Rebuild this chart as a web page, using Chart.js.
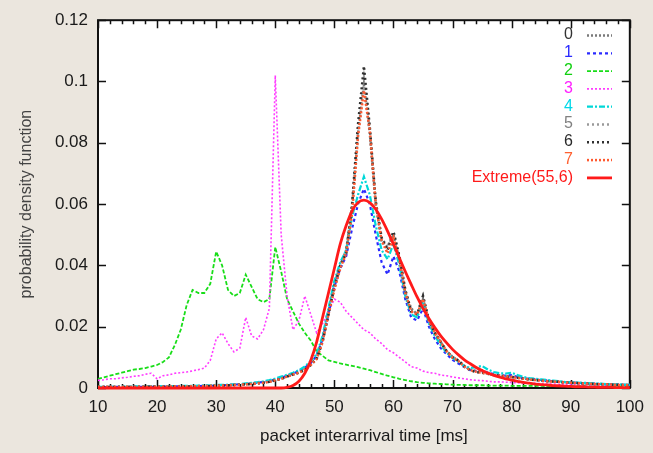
<!DOCTYPE html>
<html>
<head>
<meta charset="utf-8">
<script src="https://cdn.jsdelivr.net/npm/chart.js@4/dist/chart.umd.min.js"></script>
<style>
  html, body { margin: 0; padding: 0; background: #ebe6de; }
  #c { display: block; }
</style>
</head>
<body>
<canvas id="c" width="653" height="453"></canvas>
<script>
// ---- Data ----
const xValues = [10,11,12,13,14,15,16,17,18,19,20,21,22,23,24,25,26,27,28,29,30,31,32,33,34,35,36,37,38,39,40,41,42,43,44,45,46,47,48,49,50,51,52,53,54,55,56,57,58,59,60,61,62,63,64,65,66,67,68,69,70,71,72,73,74,75,76,77,78,79,80,81,82,83,84,85,86,87,88,89,90,91,92,93,94,95,96,97,98,99,100];

const xTicks = [10,20,30,40,50,60,70,80,90,100];
const yTicks = [0,0.02,0.04,0.06,0.08,0.1,0.12];
const seriesLabels = ["0","1","2","3","4","5","6","7","Extreme(55,6)"];

const s0 = [.0004,.0003,.0004,.0003,.0004,.0004,.0003,.0004,.0004,.0005,
 .0004,.0005,.0005,.0005,.0006,.0005,.0006,.0006,.0007,.0007,
 .0008,.0008,.0009,.001,.0011,.0012,.0014,.0016,.0018,.0021,
 .0026,.0031,.0038,.0044,.0051,.0062,.0078,.0098,.016,.025,
 .034,.040,.045,.059,.083,.099,.083,.060,.048,.046,
 .050,.042,.031,.026,.024,.029,.022,.018,.015,.012,
 .0102,.0088,.0072,.006,.0055,.0052,.0047,.0043,.004,.0038,
 .0037,.0034,.0031,.0029,.0027,.0025,.0023,.0021,.002,.0019,
 .0018,.0016,.0015,.0014,.0013,.0013,.0012,.0011,.0011,.001,.001];

const s1 = [.0003,.0003,.0003,.0004,.0003,.0003,.0004,.0004,.0004,.0004,
 .0004,.0005,.0004,.0005,.0005,.0006,.0006,.0006,.0007,.0007,
 .0008,.0009,.001,.0011,.0012,.0013,.0015,.0017,.002,.0023,
 .0028,.0034,.004,.0047,.0055,.0066,.0082,.0105,.016,.024,
 .033,.039,.043,.052,.060,.065,.060,.050,.041,.037,
 .043,.038,.029,.023,.022,.026,.020,.016,.013,.011,
 .0092,.008,.0068,.0058,.0055,.0058,.005,.0045,.0042,.004,
 .0042,.0036,.0032,.003,.0028,.0026,.0024,.0022,.002,.0019,
 .0018,.0017,.0016,.0015,.0014,.0013,.0012,.0012,.0011,.001,.001];

const s2 = [.003,.0035,.004,.0045,.005,.0055,.006,.0062,.0065,.007,
 .0075,.0085,.010,.014,.019,.027,.032,.031,.031,.034,
 .0445,.040,.032,.030,.031,.037,.033,.029,.028,.029,
 .046,.038,.029,.025,.021,.018,.0155,.012,.0105,.009,
 .0085,.008,.0076,.0072,.0068,.0063,.0058,.0052,.0046,.004,
 .0035,.003,.0026,.0022,.0019,.0017,.0015,.0014,.0013,.0012,
 .0011,.001,.001,.0009,.0009,.0009,.0008,.0008,.0008,.0008,
 .0007,.0007,.0007,.0007,.0007,.0007,.0006,.0006,.0006,.0006,
 .0006,.0006,.0006,.0006,.0005,.0005,.0005,.0005,.0005,.0005,.0005];

const s3 = [.0025,.0027,.003,.003,.0033,.0035,.0038,.004,.0045,.0048,
 .003,.004,.0043,.0048,.005,.0052,.0056,.006,.0065,.009,
 .016,.018,.0145,.0118,.013,.023,.017,.016,.019,.026,
 .102,.05,.03,.019,.022,.030,.024,.018,.021,.025,
 .029,.028,.025,.023,.021,.019,.018,.016,.0145,.0125,
 .0115,.010,.0085,.007,.0065,.0055,.005,.0048,.0042,.004,
 .0036,.0033,.003,.0027,.0025,.0024,.0022,.002,.002,.0019,
 .0018,.0017,.0016,.0015,.0015,.0014,.0013,.0013,.0012,.0012,
 .0011,.0011,.001,.001,.001,.0009,.0009,.0009,.0008,.0008,.0008];

const s4 = [.0004,.0004,.0004,.0004,.0005,.0004,.0005,.0005,.0005,.0005,
 .0005,.0006,.0006,.0006,.0007,.0007,.0007,.0008,.0008,.0009,
 .001,.001,.0011,.0012,.0013,.0015,.0017,.0019,.0022,.0026,
 .0031,.0037,.0043,.005,.0058,.007,.0088,.011,.017,.026,
 .035,.041,.045,.056,.063,.069,.063,.053,.045,.042,
 .047,.040,.030,.024,.023,.028,.021,.017,.014,.0115,
 .0098,.0085,.0072,.0065,.0068,.0072,.006,.0052,.0048,.0047,
 .005,.0042,.0036,.0032,.003,.0028,.0026,.0024,.0022,.002,
 .0019,.0018,.0017,.0016,.0015,.0014,.0013,.0012,.0012,.0011,.001];

const s5 = [.0003,.0004,.0003,.0004,.0003,.0004,.0004,.0003,.0004,.0004,
 .0005,.0004,.0005,.0005,.0005,.0006,.0006,.0007,.0006,.0007,
 .0008,.0009,.0009,.001,.0011,.0012,.0014,.0016,.0018,.0021,
 .0026,.003,.0037,.0044,.005,.006,.0076,.0096,.0155,.024,
 .033,.040,.044,.059,.084,.101,.084,.060,.049,.046,
 .051,.043,.032,.025,.024,.030,.022,.018,.015,.012,
 .0101,.0089,.0071,.0059,.0053,.005,.0046,.0043,.004,.0038,
 .0036,.0033,.003,.0028,.0026,.0025,.0023,.0021,.002,.0019,
 .0017,.0016,.0015,.0014,.0013,.0012,.0012,.0011,.001,.001,.0009];

const s6 = [.0003,.0003,.0003,.0003,.0003,.0003,.0003,.0003,.0004,.0004,
 .0004,.0004,.0004,.0005,.0005,.0005,.0005,.0006,.0006,.0006,
 .0007,.0008,.0009,.001,.0011,.0012,.0013,.0015,.0017,.002,
 .0025,.003,.0038,.0045,.005,.006,.0075,.0095,.015,.024,
 .033,.040,.044,.060,.086,.105,.085,.061,.049,.045,
 .051,.043,.032,.025,.024,.030,.022,.018,.015,.012,
 .010,.009,.007,.0058,.0052,.005,.0046,.0042,.004,.0038,
 .0036,.0033,.003,.0028,.0026,.0024,.0022,.0021,.002,.0018,
 .0017,.0016,.0015,.0014,.0013,.0012,.0012,.0011,.001,.001,.0009];

const s7 = [.0003,.0003,.0004,.0003,.0003,.0004,.0003,.0004,.0004,.0004,
 .0004,.0004,.0005,.0005,.0005,.0005,.0006,.0006,.0006,.0007,
 .0007,.0008,.0009,.001,.0011,.0012,.0013,.0015,.0017,.002,
 .0025,.003,.0037,.0044,.005,.006,.0075,.0094,.015,.024,
 .032,.039,.044,.057,.082,.097,.084,.060,.048,.044,
 .049,.042,.031,.025,.024,.029,.022,.018,.015,.012,
 .0099,.0088,.007,.0058,.0053,.005,.0046,.0042,.004,.0038,
 .0036,.0033,.003,.0028,.0026,.0024,.0022,.0021,.002,.0018,
 .0017,.0016,.0015,.0014,.0013,.0012,.0012,.0011,.001,.001,.0009];

const extreme = [0,0,0,0,0,0,0,0,0,0,
 0,0,0,0,0,0,0,0,0,0,
 0,0,0,0,0,0,0,0,0,0,
 0,0,.0002,.0008,.0022,.0048,.009,.015,.023,.031,
 .039,.047,.053,.0578,.0605,.0613,.0605,.0583,.0551,.0512,
 .0469,.0424,.038,.0338,.0297,.026,.0227,.0197,.017,.0147,
 .0126,.0108,.0092,.0079,.0067,.0057,.0049,.0041,.0035,.003,
 .0026,.0022,.0018,.0016,.0013,.0011,.001,.0008,.0007,.0006,
 .0005,.0004,.0004,.0003,.0003,.0002,.0002,.0002,.0001,.0001,.0001];

// ---- Styles ----
const FONT = "'Liberation Sans', Arial, Helvetica, sans-serif";
const seriesValues = [s0, s1, s2, s3, s4, s5, s6, s7, extreme];
const lineColors  = ["#7a7a7a", "#2a2aff", "#18dd18", "#ff3cff", "#00d8d8", "#9a9a9a", "#303030", "#ff5a30", "#ff1a1a"];
const labelColors = ["#333333", "#2a2aff", "#10d010", "#ff20ff", "#00d8e8", "#808080", "#2a2a2a", "#ff6030", "#ff1a1a"];
const dashes = [[2,2],[3,3],[4,2],[2,2],[6,2,2,2],[2,3],[2,3],[2,2],[]];
const widths = [2.5,2.2,1.8,1.6,2.2,2.5,2.5,2.5,2.8];

const datasets = seriesValues.map((vals, i) => ({
  label: seriesLabels[i],
  data: xValues.map((x, k) => ({ x: x, y: vals[k] })),
  borderColor: lineColors[i],
  backgroundColor: lineColors[i],
  borderWidth: widths[i],
  borderDash: dashes[i],
  pointRadius: 0,
  tension: i === 8 ? 0.4 : 0,
  cubicInterpolationMode: i === 8 ? 'monotone' : 'default',
  fill: false,
  clip: 4,
  order: 9 - i
}));

const bgPlugin = {
  id: 'bg',
  beforeDraw(chart) {
    const { ctx, chartArea: a } = chart;
    ctx.save();
    ctx.fillStyle = '#ebe6de';
    ctx.fillRect(0, 0, chart.width, chart.height);
    ctx.fillStyle = '#ffffff';
    ctx.fillRect(a.left, a.top, a.right - a.left, a.bottom - a.top);
    ctx.restore();
  }
};

const framePlugin = {
  id: 'frame',
  beforeDatasetsDraw(chart) {
    const { ctx, chartArea: a, scales } = chart;
    const xs = scales.x, ys = scales.y;
    ctx.save();
    ctx.strokeStyle = '#111';
    ctx.lineWidth = 1.5;
    ctx.beginPath();
    for (let v = 10; v <= 100; v += 2) {
      const px = Math.round(xs.getPixelForValue(v)) + 0.5;
      const len = (v % 10 === 0) ? 8 : 4;
      ctx.moveTo(px, a.bottom); ctx.lineTo(px, a.bottom - len);
      ctx.moveTo(px, a.top); ctx.lineTo(px, a.top + len);
    }
    yTicks.forEach(v => {
      const py = Math.round(ys.getPixelForValue(v)) + 0.5;
      ctx.moveTo(a.left, py); ctx.lineTo(a.left + 8, py);
      ctx.moveTo(a.right, py); ctx.lineTo(a.right - 8, py);
    });
    ctx.stroke();
    ctx.lineWidth = 2;
    ctx.strokeRect(a.left, a.top, a.right - a.left, a.bottom - a.top);
    ctx.restore();
  }
};

const legendPlugin = {
  id: 'customLegend',
  afterDraw(chart) {
    const { ctx } = chart;
    ctx.save();
    ctx.font = "16px " + FONT;
    ctx.textAlign = 'right';
    ctx.textBaseline = 'middle';
    chart.data.datasets.forEach((ds, i) => {
      const y = 35 + i * 17.8;
      ctx.fillStyle = labelColors[i];
      ctx.fillText(ds.label, 573, y);
      ctx.strokeStyle = ds.borderColor;
      ctx.lineWidth = ds.borderWidth;
      ctx.setLineDash(ds.borderDash);
      ctx.beginPath();
      ctx.moveTo(587, y + 0.5);
      ctx.lineTo(612, y + 0.5);
      ctx.stroke();
    });
    ctx.restore();
  }
};

new Chart(document.getElementById('c'), {
  type: 'line',
  data: { datasets: datasets },
  options: {
    responsive: false,
    animation: false,
    devicePixelRatio: 1,
    layout: { padding: { left: 0, right: 21, top: 20, bottom: 0 } },
    plugins: { legend: { display: false }, tooltip: { enabled: false } },
    elements: { point: { radius: 0 } },
    scales: {
      x: {
        type: 'linear', min: 10, max: 100,
        afterBuildTicks(s) { s.ticks = xTicks.map(v => ({ value: v })); },
        afterFit(s) { s.height = 65; },
        ticks: { font: { family: FONT, size: 17 }, color: '#1a1a1a', padding: 9, maxRotation: 0, autoSkip: false,
                 callback: v => String(v) },
        grid: { display: false, drawTicks: false },
        border: { display: false },
        title: { display: true, text: 'packet interarrival time [ms]', color: '#1a1a1a',
                 font: { family: FONT, size: 17 }, padding: { top: 0, bottom: 6 } }
      },
      y: {
        type: 'linear', min: 0, max: 0.12,
        afterBuildTicks(s) { s.ticks = yTicks.map(v => ({ value: v })); },
        afterFit(s) { s.width = 98; },
        ticks: { font: { family: FONT, size: 17 }, color: '#1a1a1a', padding: 10,
                 callback: v => String(+(+v).toFixed(2)) },
        grid: { display: false, drawTicks: false },
        border: { display: false },
        title: { display: true, text: 'probability density function', color: '#444',
                 font: { family: FONT, size: 16 }, padding: { top: 17, bottom: 0 } }
      }
    }
  },
  plugins: [bgPlugin, framePlugin, legendPlugin]
});
</script>
</body>
</html>
